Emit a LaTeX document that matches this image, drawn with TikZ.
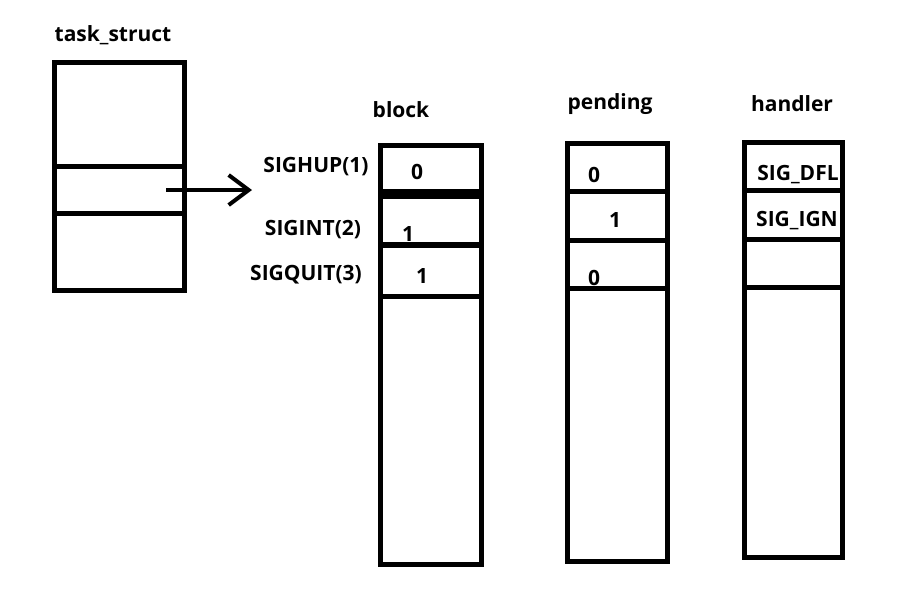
\documentclass[tikz,border=0pt]{standalone}
\usepackage{fontspec}
\setmainfont{Open Sans}
\usetikzlibrary{arrows.meta}
\begin{document}
\begin{tikzpicture}[x=1pt,y=-1pt,
  box/.style={line width=5pt},
  lbl/.style={font=\bfseries\fontsize{21}{24}\selectfont, inner sep=0pt},
  val/.style={font=\bfseries\fontsize{21}{24}\selectfont, inner sep=0pt}]
\useasboundingbox (0,0) rectangle (924,600);
% task_struct
\node[lbl] (tsl) at (113,35) {task\_struct};
\draw[box] (54,62) rectangle (184,290);
\draw[box] (54,166) -- (184,166);
\draw[box] (54,213) -- (184,213);
\coordinate (astart) at (166,190);
\coordinate (aend) at (252,190);
\draw[line width=4pt, -{Straight Barb[length=20pt,width=30pt,line width=4pt]}] (astart) -- (aend);
% block
\node[lbl] (bl) at (401,110) {block};
\draw[box] (380,145) rectangle (481,564);
\draw[line width=10pt] (380,194) -- (481,194);
\draw[line width=6pt] (380,245) -- (481,245);
\draw[line width=5pt] (380,296) -- (481,296);
\node[lbl] (s1) at (316,167) {SIGHUP(1)};
\node[lbl] (s2) at (313,230) {SIGINT(2)};
\node[lbl] (s3) at (306,275) {SIGQUIT(3)};
\node[val] (b1) at (417,172) {0};
\node[val] (b2) at (408,234) {1};
\node[val] (b3) at (422,276) {1};
% pending
\node[lbl] (pl) at (610,104) {pending};
\draw[box] (567,143) rectangle (667,561);
\draw[box] (567,191) -- (667,191);
\draw[box] (567,240) -- (667,240);
\draw[box] (567,288) -- (667,288);
\node[val] (p1) at (594,175) {0};
\node[val] (p2) at (615,220) {1};
\node[val] (p3) at (594,278) {0};
% handler
\node[lbl] (hl) at (792,104) {handler};
\draw[box] (744,142) rectangle (842,557);
\draw[box] (744,190) -- (842,190);
\draw[box] (744,239) -- (842,239);
\draw[box] (744,287) -- (842,287);
\node[val] (h1) at (798,175) {SIG\_DFL};
\node[val] (h2) at (797,221) {SIG\_IGN};
\end{tikzpicture}
\end{document}
